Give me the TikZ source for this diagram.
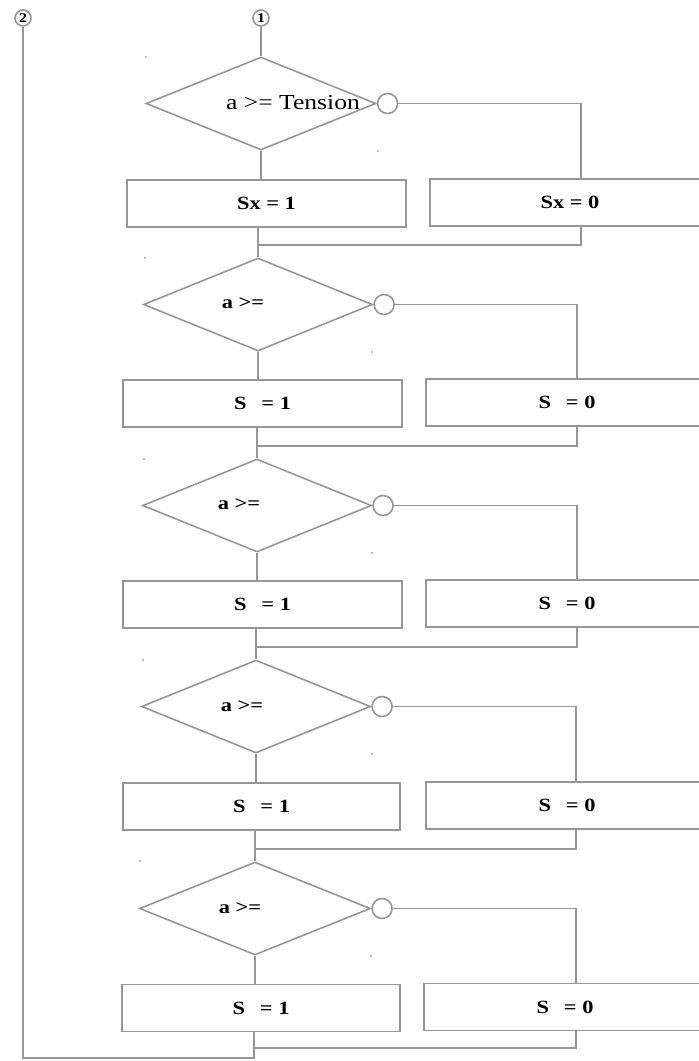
\documentclass[tikz,border=0pt]{standalone}
\usepackage{fontspec}
\setmainfont{Liberation Serif}
\newfontfamily\lbfont{Liberation Serif}[FakeStretch=1.2]
\usetikzlibrary{shapes.geometric}
\definecolor{lc}{RGB}{150,150,150}
\definecolor{dotc}{RGB}{120,120,120}
\def\u{0.75pt}
\begin{document}
\begin{tikzpicture}[x=0.75pt,y=-0.75pt,
  ln/.style={draw=lc, line width=1.2pt},
  dia/.style={diamond, draw=lc, line width=1.2pt, inner sep=0pt, minimum height=93*\u},
  box/.style={rectangle, draw=lc, line width=1.2pt, inner sep=0pt, minimum height=47*\u,
    font=\lbfont\fontsize{14}{16}\selectfont\bfseries},
  con/.style={circle, draw=lc, line width=1.2pt, inner sep=0pt, minimum size=16*\u,
    font=\lbfont\fontsize{10}{11}\selectfont\bfseries},
  ring/.style={circle, draw=lc, line width=1.2pt, inner sep=0pt, minimum size=20*\u, anchor=west},
  cond/.style={font=\lbfont\fontsize{14}{16}\selectfont\bfseries},
  tens/.style={font=\lbfont\fontsize{16}{18}\selectfont},
  spec/.style={fill=dotc}
]
\useasboundingbox (0,0) rectangle (699,1061);
\clip (0,0) rectangle (699,1061);

% connectors at top
\node[con] (n1) at (261,18) {1};
\node[con] (n2) at (23,18) {2};

% ---- row 1
\node[dia, minimum width=230*\u] (d1) at (261,103.5) {};
\node[tens] (t1) at (293,103) {a >= Tension};
\node[ring] (c1) at (d1.east) {};
\node[box, minimum width=279*\u] (L1) at (266.5,203.5) {Sx = 1};
\node[box, minimum width=280*\u] (R1) at (570,202.5) {Sx = 0};
\coordinate (k1) at (581,0);
\coordinate (m1) at (258,245);

% ---- row 2
\node[dia, minimum width=229*\u] (d2) at (258,304.5) {};
\node[cond] (t2) at (243,303) {a >=};
\node[ring] (c2) at (d2.east) {};
\node[box, minimum width=279*\u] (L2) at (262.5,403.5) {S\hspace{0.5em} = 1};
\node[box, minimum width=282*\u] (R2) at (567,402.5) {S\hspace{0.5em} = 0};
\coordinate (k2) at (577,0);
\coordinate (m2) at (257,446);

% ---- row 3
\node[dia, minimum width=229*\u] (d3) at (257,505.5) {};
\node[cond] (t3) at (239,504) {a >=};
\node[ring] (c3) at (d3.east) {};
\node[box, minimum width=279*\u] (L3) at (262.5,604.5) {S\hspace{0.5em} = 1};
\node[box, minimum width=282*\u] (R3) at (567,603.5) {S\hspace{0.5em} = 0};
\coordinate (k3) at (577,0);
\coordinate (m3) at (256,647);

% ---- row 4
\node[dia, minimum width=229*\u] (d4) at (256,706.5) {};
\node[cond] (t4) at (242,706) {a >=};
\node[ring] (c4) at (d4.east) {};
\node[box, minimum width=277*\u] (L4) at (261.5,806.5) {S\hspace{0.5em} = 1};
\node[box, minimum width=282*\u] (R4) at (567,805.5) {S\hspace{0.5em} = 0};
\coordinate (k4) at (576,0);
\coordinate (m4) at (255,849);

% ---- row 5
\node[dia, minimum width=231*\u] (d5) at (255,908.5) {};
\node[cond] (t5) at (240,908) {a >=};
\node[ring] (c5) at (d5.east) {};
\node[box, minimum width=278*\u] (L5) at (261,1008) {S\hspace{0.5em} = 1};
\node[box, minimum width=282*\u] (R5) at (565,1007) {S\hspace{0.5em} = 0};
\coordinate (k5) at (576,0);
\coordinate (m5) at (254,1048);
\coordinate (b) at (254,1058);

% ---- connectors
\draw[ln] (n1) -- (d1.north);
\foreach \i/\j in {1/2,2/3,3/4,4/5}{
  \draw[ln] (d\i.south) -- (d\i.south |- L\i.north);
  \draw[ln] (c\i.east) -| (R\i.north -| k\i);
  \draw[ln] (L\i.south -| m\i) -- (m\i) -| (R\i.south -| k\i);
  \draw[ln] (m\i) -- (d\j.north);
}
\draw[ln] (d5.south) -- (d5.south |- L5.north);
\draw[ln] (c5.east) -| (R5.north -| k5);
\draw[ln] (L5.south -| m5) -- (m5) -| (R5.south -| k5);
\draw[ln] (m5) -- (b) -| (n2.south);

% ---- stray specks
\foreach \x/\y in {146/57,378/151,145/258,372/352,144/459,372/553,143/660,372/754,140/861,371/956}{
  \fill[spec] (\x,\y) circle (0.8);
}
\end{tikzpicture}
\end{document}
